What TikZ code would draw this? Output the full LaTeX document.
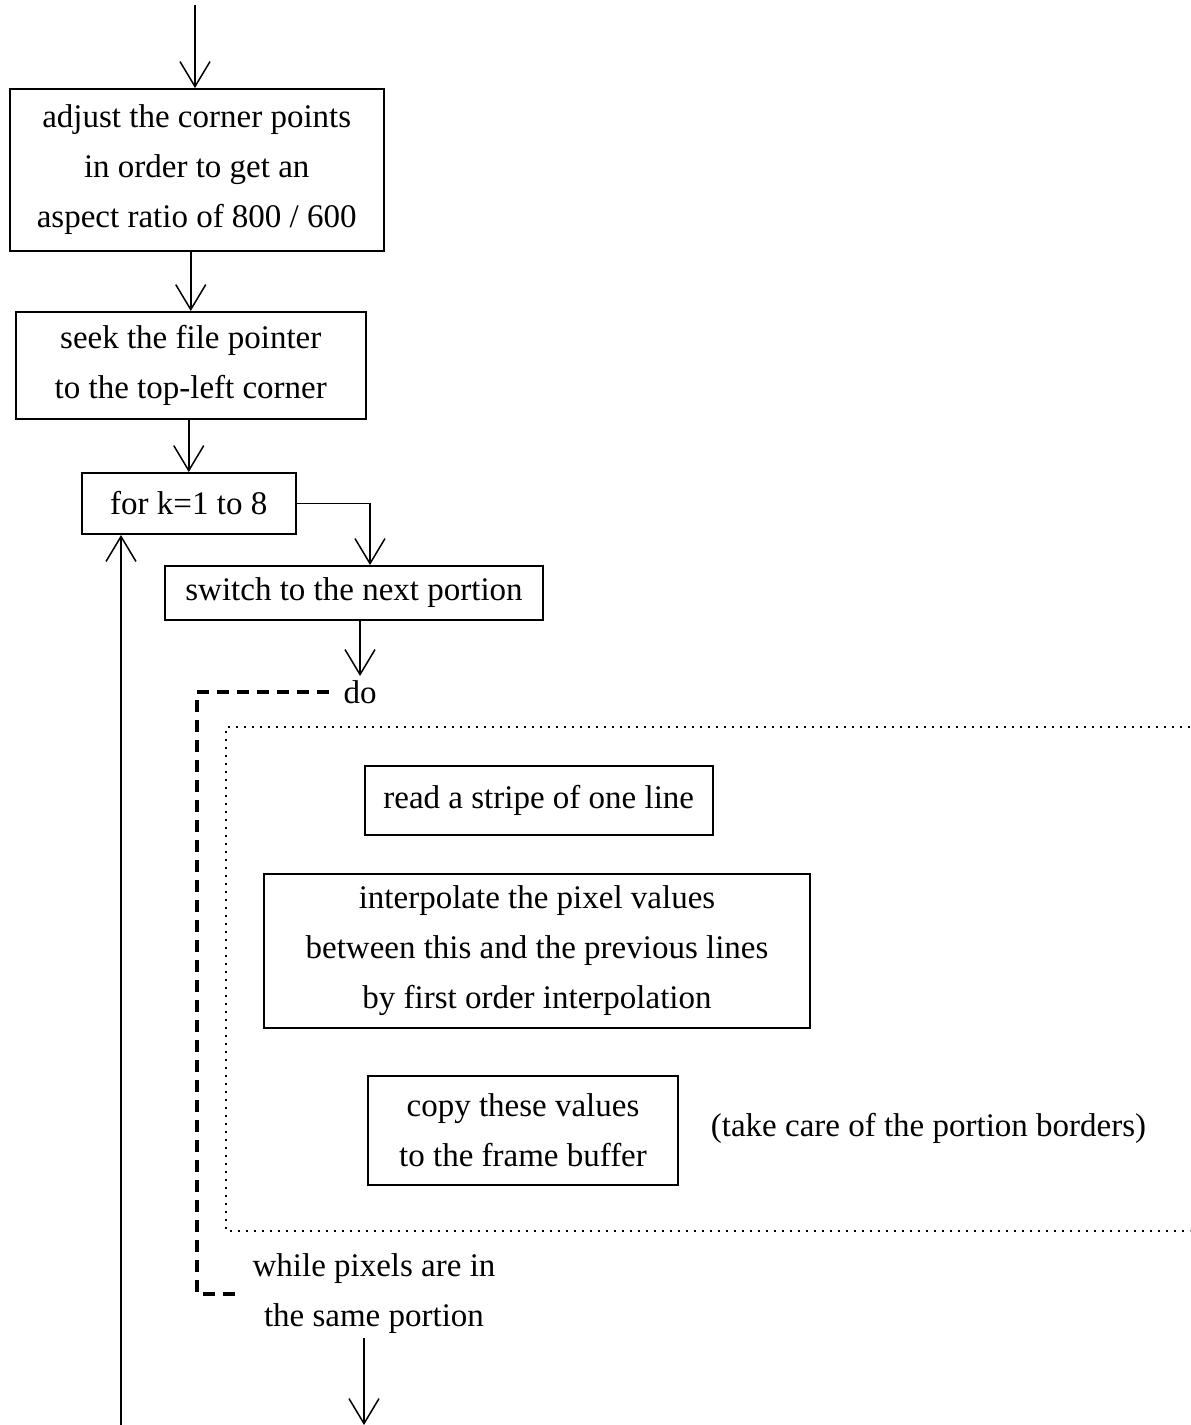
\documentclass[tikz,border=0pt]{standalone}
\usepackage{fontspec}
\setmainfont{Liberation Serif}
\usetikzlibrary{arrows.meta}

\begin{document}
\begin{tikzpicture}[x=0.5pt,y=-0.5pt,font=\fontsize{16.5}{25}\selectfont,
        caja/.style={draw,line width=1pt,align=center,inner sep=0pt},
        texto/.style={align=center,inner sep=2pt},
        flecha/.style={line width=0.75pt,-{Straight Barb[length=12.5pt,width=15pt,line width=0.75pt]}},
        lazo/.style={line width=1.6pt,dash pattern=on 6pt off 4pt},
        punteado/.style={line width=0.8pt,dash pattern=on 0.8pt off 3.2pt}]
        \useasboundingbox (0,0) rectangle (1190,1425);

        % Cajas de arriba
        \node[caja,minimum width=186.75pt,minimum height=81pt] (adjust) at (196.75,170) {adjust the corner points\\in order to get an\\aspect ratio of 800 / 600};
        \node[caja,minimum width=174.75pt,minimum height=53.5pt] (seek) at (190.75,365.5) {seek the file pointer\\to the top-left corner};
        \node[caja,minimum width=106.75pt,minimum height=30.5pt] (fork) at (188.75,503.5) {for k=1 to 8};
        \node[caja,minimum width=189pt,minimum height=27pt] (switch) at (354,593) {switch to the next portion};

        % Bucle interior
        \node[texto] (do) at (360,692) {do};
        \draw[punteado] (1190,727) -- (226,727) -- (226,1231) -- (1190,1231);
        \node[caja,minimum width=173.75pt,minimum height=34.5pt] (read) at (538.75,800.5) {read a stripe of one line};
        \node[caja,minimum width=273pt,minimum height=77.25pt] (interp) at (537,950.75) {interpolate the pixel values\\between this and the previous lines\\by first order interpolation};
        \node[caja,minimum width=155pt,minimum height=54.5pt] (copy) at (523,1130.5) {copy these values\\to the frame buffer};
        \node[texto] (note) at (928.5,1128) {(take care of the portion borders)};
        \node[texto] (while) at (374,1294) {while pixels are in\\the same portion};
        \coordinate (lazox) at (197,0);
        \draw[lazo,shorten <=5pt,shorten >=6pt] (do.west) -| (lazox |- while.west) -- (while.west);

        % Flechas
        \coordinate (entrada) at (195,5);
        \coordinate (salida) at (364,1425);
        \coordinate (vuelta) at (121,1425);
        \draw[flecha] (entrada) -- (entrada |- adjust.north);
        \draw[flecha] (adjust.south -| seek.north) -- (seek.north);
        \draw[flecha] (seek.south -| fork.north) -- (fork.north);
        \draw[flecha] (fork.east) -| ([xshift=8pt]switch.north);
        \draw[flecha] (switch.south -| do.north) -- (do.north);
        \draw[flecha] (while.south -| salida) -- (salida);
        \draw[flecha] (vuelta) -- (vuelta |- fork.south);
    \end{tikzpicture}
\end{document}
